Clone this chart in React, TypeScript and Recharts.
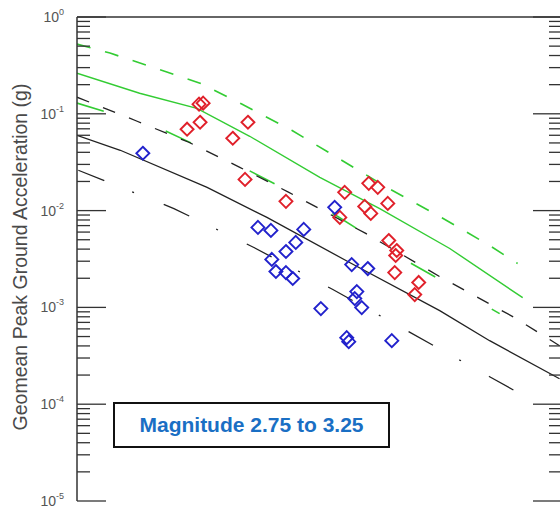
import { ComposedChart, Line, Scatter, XAxis, YAxis, ReferenceLine } from 'recharts';

// distance (km, log) vs geomean PGA (g, log)
const X_TICKS = [10, 20, 30, 40, 50, 60, 70, 80, 90, 100, 200, 300, 400];
const Y_DECADES = [-5, -4, -3, -2, -1];
const Y_MULTS = [1, 2, 3, 4, 5, 6, 7, 8, 9];
const Y_TICKS = [...Y_DECADES.flatMap((d) => Y_MULTS.map((m) => m * Math.pow(10, d))), 1];

const RED_POINTS = [
    { x: 23.1, y: 0.0693 }, { x: 25.3, y: 0.1257 }, { x: 26.1, y: 0.1288 }, { x: 25.5, y: 0.0818 },
    { x: 32.7, y: 0.0559 }, { x: 36.7, y: 0.0818 }, { x: 35.9, y: 0.021 }, { x: 49.0, y: 0.01246 },
    { x: 76.6, y: 0.01543 }, { x: 73.8, y: 0.0085 }, { x: 92.0, y: 0.01912 }, { x: 98.5, y: 0.01739 },
    { x: 89.2, y: 0.01105 }, { x: 93.4, y: 0.00936 }, { x: 106.3, y: 0.01187 }, { x: 107.1, y: 0.00491 },
    { x: 113.8, y: 0.00387 }, { x: 112.9, y: 0.00344 }, { x: 112.1, y: 0.00229 }, { x: 134.5, y: 0.00181 },
    { x: 130.5, y: 0.001357 },
];

const BLUE_POINTS = [
    { x: 16.5, y: 0.0391 }, { x: 39.6, y: 0.0067 }, { x: 43.7, y: 0.00624 }, { x: 56.1, y: 0.00639 },
    { x: 52.8, y: 0.00469 }, { x: 49.0, y: 0.00378 }, { x: 44.0, y: 0.00313 }, { x: 45.4, y: 0.00235 },
    { x: 49.0, y: 0.00229 }, { x: 51.6, y: 0.00199 }, { x: 71.0, y: 0.0108 }, { x: 80.8, y: 0.00277 },
    { x: 91.3, y: 0.00252 }, { x: 84.0, y: 0.001457 }, { x: 82.7, y: 0.001234 }, { x: 87.2, y: 0.000995 },
    { x: 63.9, y: 0.000972 }, { x: 77.8, y: 0.000487 }, { x: 79.0, y: 0.000443 }, { x: 109.6, y: 0.000453 },
];

const GREEN_UPPER = [
    { x: 10, y: 0.525 }, { x: 12.85, y: 0.424 }, { x: 19.8, y: 0.27 }, { x: 25.5, y: 0.207 },
    { x: 35.0, y: 0.126 }, { x: 51.2, y: 0.0676 }, { x: 105.5, y: 0.0174 }, { x: 157.8, y: 0.0087 },
    { x: 230.7, y: 0.00436 }, { x: 285.4, y: 0.00284 },
];
const GREEN_MEDIAN = [
    { x: 10, y: 0.263 }, { x: 16.1, y: 0.163 }, { x: 24.9, y: 0.114 }, { x: 37.2, y: 0.0586 },
    { x: 63.4, y: 0.0221 }, { x: 100, y: 0.0105 }, { x: 170.3, y: 0.00406 }, { x: 296.6, y: 0.00126 },
];
const GREEN_LOWER = [
    { x: 10, y: 0.129 }, { x: 19.1, y: 0.0693 }, { x: 35.3, y: 0.028 }, { x: 72.7, y: 0.0087 },
    { x: 125.6, y: 0.00291 }, { x: 248.9, y: 0.000863 },
];
const BLACK_UPPER = [
    { x: 10, y: 0.1485 }, { x: 15.8, y: 0.0838 }, { x: 23.4, y: 0.0508 }, { x: 34.5, y: 0.028 },
    { x: 50.1, y: 0.01543 }, { x: 89.9, y: 0.00581 }, { x: 157.8, y: 0.00208 }, { x: 279, y: 0.000784 },
    { x: 392.6, y: 0.000402 },
];
const BLACK_MEDIAN = [
    { x: 10, y: 0.06 }, { x: 13.9, y: 0.042 }, { x: 26.9, y: 0.0174 }, { x: 42.4, y: 0.0085 },
    { x: 78.4, y: 0.00298 }, { x: 157.8, y: 0.000927 }, { x: 230.7, y: 0.000453 }, { x: 392.6, y: 0.000183 },
];
const BLACK_LOWER = [
    { x: 10.1, y: 0.0261 }, { x: 20.9, y: 0.0105 }, { x: 38.4, y: 0.00416 }, { x: 70.0, y: 0.00153 },
    { x: 124.6, y: 0.000562 }, { x: 230.7, y: 0.000192 }, { x: 324.8, y: 0.000106 },
];

const CHART_W = 575;
const CHART_H = 506;
const MARGIN = { top: 17, right: 13, bottom: 5, left: 0 };
const PLOT_TOP = MARGIN.top;
const PLOT_RIGHT = CHART_W - MARGIN.right;
const AXIS = '#333';
const GREEN = '#33cc33';
const BLACK = '#222';
const FONT = '"Liberation Sans", Arial, sans-serif';

const isMajor = (v: number) => {
    const l = Math.log10(v);
    return Math.abs(l - Math.round(l)) < 1e-6;
};

const XTick = (props: any) => {
    const { x, y, payload } = props;
    const len = isMajor(payload.value) ? 28 : 13;
    return (
        <g>
            <line x1={x} y1={y} x2={x} y2={y - len} stroke={AXIS} strokeWidth={1.3} />
            <line x1={x} y1={PLOT_TOP} x2={x} y2={PLOT_TOP + len} stroke={AXIS} strokeWidth={1.3} />
        </g>
    );
};

const YTick = (props: any) => {
    const { x, y, payload } = props;
    const major = isMajor(payload.value);
    const len = major ? 29 : 13;
    const exp = Math.round(Math.log10(payload.value));
    return (
        <g>
            <line x1={x} y1={y} x2={x + len} y2={y} stroke={AXIS} strokeWidth={1.3} />
            <line x1={PLOT_RIGHT} y1={y} x2={PLOT_RIGHT - len} y2={y} stroke={AXIS} strokeWidth={1.3} />
            {major && (
                <text x={x - 13} y={y + 5} textAnchor="end" fill="#555" fontSize={14} fontFamily={FONT}>
                    10<tspan dy={-7} fontSize={9}>{exp}</tspan>
                </text>
            )}
        </g>
    );
};

const YLabel = () => (
    <text
        x={27}
        y={257}
        transform="rotate(-90 27 257)"
        textAnchor="middle"
        fill="#4a4a4a"
        fontSize={19.5}
        fontFamily={FONT}
    >
        Geomean Peak Ground Acceleration (g)
    </text>
);

const diamond = (color: string) => (p: any) => {
    const { cx, cy } = p;
    const r = 6.5;
    return (
        <path
            d={`M${cx},${cy - r}L${cx + r},${cy}L${cx},${cy + r}L${cx - r},${cy}Z`}
            fill="none"
            stroke={color}
            strokeWidth={1.9}
        />
    );
};

const App = () => {
    return (
        <div style={{ position: 'absolute', left: 0, top: 0, width: 560, height: 506, overflow: 'hidden', background: '#fff', fontFamily: FONT }}>
            <ComposedChart width={CHART_W} height={CHART_H} margin={MARGIN}>
                <XAxis
                    type="number"
                    dataKey="x"
                    scale="log"
                    domain={[10, 400]}
                    ticks={X_TICKS}
                    interval={0}
                    allowDataOverflow
                    height={0}
                    tickSize={0}
                    tickMargin={0}
                    tickLine={false}
                    axisLine={{ stroke: AXIS, strokeWidth: 1.5 }}
                    tick={<XTick />}
                />
                <YAxis
                    type="number"
                    dataKey="y"
                    scale="log"
                    domain={[1e-5, 1]}
                    ticks={Y_TICKS}
                    interval={0}
                    allowDataOverflow
                    width={77}
                    tickSize={0}
                    tickMargin={0}
                    tickLine={false}
                    axisLine={{ stroke: AXIS, strokeWidth: 1.5 }}
                    tick={<YTick />}
                    label={<YLabel />}
                />
                <ReferenceLine y={1} stroke={AXIS} strokeWidth={1.5} />
                <ReferenceLine x={400} stroke={AXIS} strokeWidth={1.5} />

                <Line data={GREEN_UPPER} dataKey="y" type="linear" stroke={GREEN} strokeWidth={1.6} strokeDasharray="14 15" dot={false} isAnimationActive={false} />
                <Line data={GREEN_MEDIAN} dataKey="y" type="linear" stroke={GREEN} strokeWidth={1.4} dot={false} isAnimationActive={false} />
                <Line data={GREEN_LOWER} dataKey="y" type="linear" stroke={GREEN} strokeWidth={1.6} strokeDasharray="28 65" dot={false} isAnimationActive={false} />
                <Line data={BLACK_UPPER} dataKey="y" type="linear" stroke={BLACK} strokeWidth={1.3} strokeDasharray="13 15" dot={false} isAnimationActive={false} />
                <Line data={BLACK_MEDIAN} dataKey="y" type="linear" stroke={BLACK} strokeWidth={1.3} dot={false} isAnimationActive={false} />
                <Line data={BLACK_LOWER} dataKey="y" type="linear" stroke={BLACK} strokeWidth={1.3} strokeDasharray="28 30 2 32" dot={false} isAnimationActive={false} />

                <Scatter data={RED_POINTS} shape={diamond('#e0202a')} isAnimationActive={false} />
                <Scatter data={BLUE_POINTS} shape={diamond('#2222cc')} isAnimationActive={false} />
            </ComposedChart>
            <div
                style={{
                    position: 'absolute',
                    left: 113,
                    top: 402,
                    width: 277,
                    height: 46,
                    boxSizing: 'border-box',
                    border: '2px solid #111',
                    background: '#fff',
                    display: 'flex',
                    alignItems: 'center',
                    justifyContent: 'center',
                    color: '#1a6fc4',
                    fontWeight: 'bold',
                    fontSize: 21,
                    fontFamily: FONT,
                }}
            >
                Magnitude 2.75 to 3.25
            </div>
        </div>
    );
};

export default App;
